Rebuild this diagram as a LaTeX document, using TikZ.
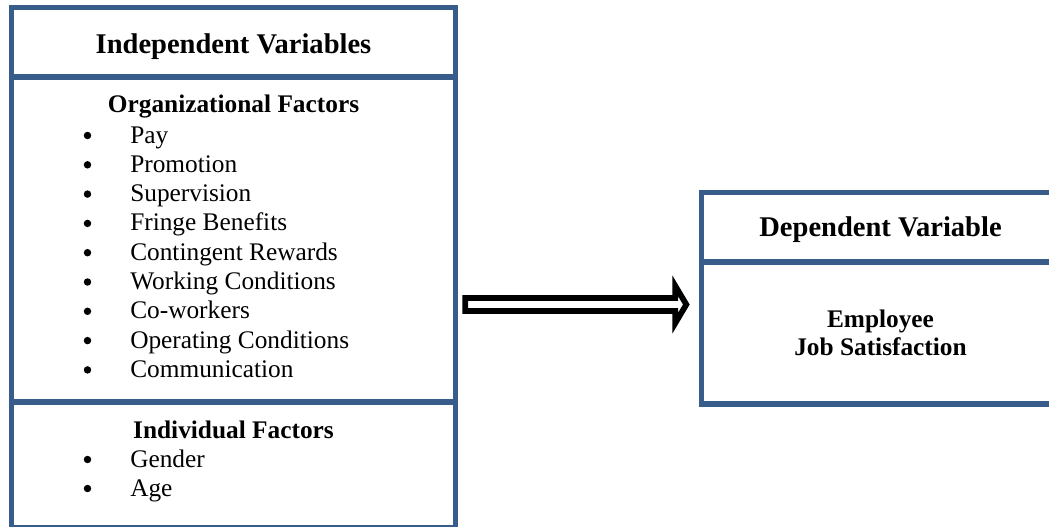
\documentclass[tikz,border=0pt]{standalone}
\usepackage{fontspec}
\setmainfont{Liberation Serif}
\usetikzlibrary{fit,calc}
\definecolor{boxblue}{HTML}{385D8A}
\begin{document}
\begin{tikzpicture}[x=0.75pt,y=-0.75pt,
  panel/.style={draw=boxblue, line width=4pt, rectangle, inner sep=0pt},
  title/.style={font=\fontsize{21.4}{25}\selectfont\bfseries, anchor=base, inner sep=0pt},
  subtitle/.style={font=\fontsize{19}{22}\selectfont\bfseries, anchor=base, inner sep=0pt},
  itemtext/.style={font=\fontsize{19}{22}\selectfont, anchor=base west, inner sep=0pt},
  bul/.style={circle, fill=black, inner sep=0pt, minimum size=5.6pt},
  hollow/.style={draw=black, line width=4.3pt, line join=miter, fill=white},
]
\clip (0,0) rectangle (1049,526);
\fill[white] (0,0) rectangle (1049,526);

% left panel
\node[panel, fit={(11.5,7.5) (455.5,77)}] (ivhead) {};
\node[panel, fit={(11.5,77) (455.5,402)}] (org) {};
\node[panel, fit={(11.5,402) (455.5,528)}] (ind) {};

% right panel
\node[panel, fit={(701.5,192.5) (1060,262)}] (dvhead) {};
\node[panel, fit={(701.5,262) (1060,404)}] (dvbody) {};

% titles
\node[title] (t1) at (233.5,53) {Independent Variables};
\node[title] (t2) at (880.5,236) {Dependent Variable};

\node[subtitle] (s1) at (233.5,112) {Organizational Factors};
\node[subtitle] (s2) at (233.5,438) {Individual Factors};

\node[subtitle] (e1) at (880.5,327) {Employee};
\node[subtitle] (e2) at (880.5,355) {Job Satisfaction};

% organizational items
\foreach \txt [count=\i from 0] in {Pay,Promotion,Supervision,Fringe Benefits,Contingent Rewards,Working Conditions,Co-workers,Operating Conditions,Communication}{
  \node[bul] (ob\i) at (87.5,135.5+29.3*\i) {};
  \node[itemtext] (oi\i) at (130,143+29.3*\i) {\txt};
}
% individual items
\foreach \txt [count=\i from 0] in {Gender,Age}{
  \node[bul] (ib\i) at (87.5,459.5+29*\i) {};
  \node[itemtext] (ii\i) at (130,467+29*\i) {\txt};
}

% hollow arrow from left panel to right panel
\coordinate (as) at ($(org.east |- 0,304.5)+(7,0)$);
\coordinate (ae) at ($(dvbody.west |- 0,304.5)+(-12.5,0)$);
\draw[hollow] ($(as)+(0,-6.5)$) -- ($(ae)+(-11,-6.5)$) -- ($(ae)+(-11,-18.5)$)
  -- (ae) -- ($(ae)+(-11,18.5)$) -- ($(ae)+(-11,6.5)$) -- ($(as)+(0,6.5)$) -- cycle;
\end{tikzpicture}
\end{document}
